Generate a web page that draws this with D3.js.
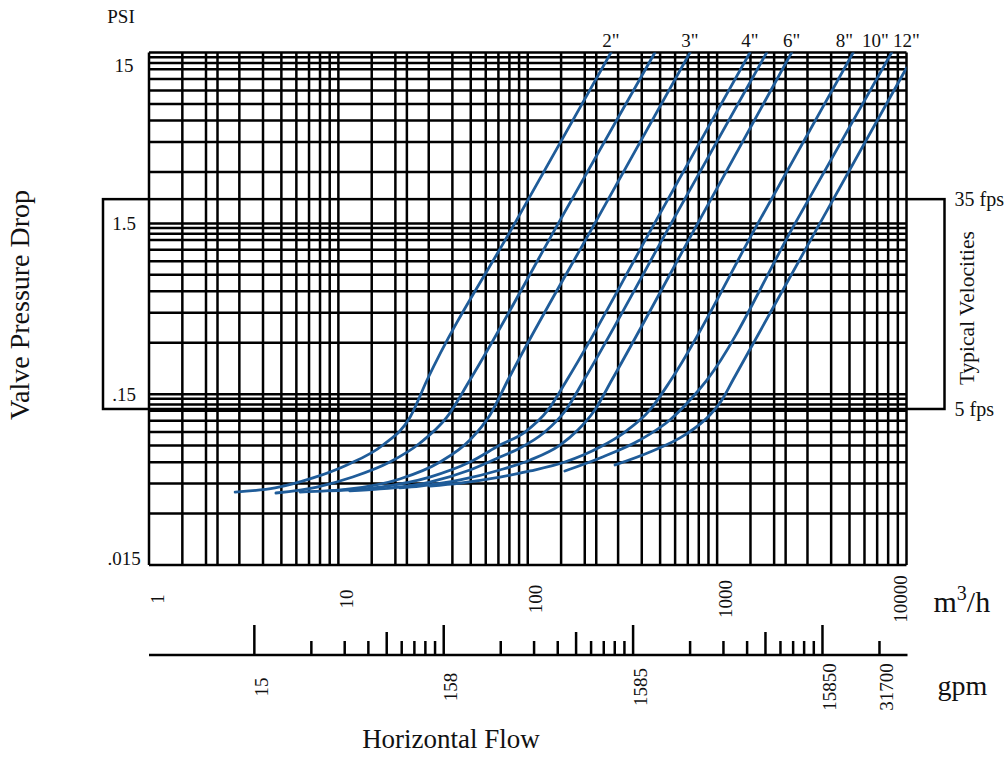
<!DOCTYPE html>
<html>
<head>
<meta charset="utf-8">
<script src="https://cdn.jsdelivr.net/npm/d3@7"></script>
<style>
  body { margin: 0; background: #fff; }
  text { font-family: "Liberation Serif", "Times New Roman", serif; fill: #111; }
</style>
</head>
<body>
<div id="chart"></div>
<script>
// valve sizes, only some are printed at the top
const sizeNames = ['2"', '2.5"', '3"', '4"', '5"', '6"', '8"', '10"', '12"'];
const sizeLabels = ['2"', '', '3"', '4"', '', '6"', '8"', '10"', '12"'];

// flow (m3/h) and pressure drop (psi)
const flow2 = [2.85, 4.63, 7.34, 11.1, 17.2, 23.9, 29.4, 85.4, 275];
const psi2 = [0.0401, 0.0424, 0.0485, 0.0578, 0.0756, 0.110, 0.1816, 1.5, 15];
const flow25 = [4.68, 7.71, 11.9, 18.7, 27.0, 37.4, 49.5, 145, 469];
const psi25 = [0.0396, 0.0429, 0.0491, 0.0601, 0.0777, 0.110, 0.1816, 1.5, 15];
const flow3 = [6.27, 11.5, 21.1, 34.4, 49.5, 63.2, 78.6, 226, 719];
const psi3 = [0.0401, 0.0418, 0.0478, 0.0601, 0.0809, 0.1133, 0.1816, 1.5, 15];
const flow4 = [9.03, 16.6, 30.4, 49.5, 71.3, 96.7, 128, 161, 467, 1490];
const psi4 = [0.0407, 0.0429, 0.0491, 0.0601, 0.0756, 0.0901, 0.1213, 0.1816, 1.5, 15];
const flow5 = [11.5, 16.6, 30.4, 49.5, 71.3, 91.0, 123, 159, 198, 572, 1826];
const psi5 = [0.0407, 0.0418, 0.0459, 0.054, 0.0643, 0.0726, 0.0901, 0.1213, 0.1816, 1.5, 15];
const flow6 = [21.1, 27.0, 43.9, 71.3, 103, 148, 184, 226, 278, 790, 2474];
const psi6 = [0.0424, 0.0435, 0.0472, 0.054, 0.0618, 0.0756, 0.0926, 0.1213, 0.1816, 1.5, 15];
const flow8 = [30.4, 43.9, 71.3, 103, 157, 241, 326, 442, 570, 1642, 5230];
const psi8 = [0.0435, 0.0453, 0.0491, 0.0533, 0.0601, 0.0736, 0.0901, 0.1213, 0.1816, 1.5, 15];
const flow10 = [157, 241, 391, 563, 719, 883, 2581, 8345];
const psi10 = [0.0533, 0.0635, 0.0809, 0.106, 0.1387, 0.1816, 1.5, 15];
const flow12 = [289, 442, 676, 916, 1060, 1212, 3488, 10000];
const psi12 = [0.0578, 0.0688, 0.0866, 0.1133, 0.1387, 0.1816, 1.5, 12.2];

const flows = [flow2, flow25, flow3, flow4, flow5, flow6, flow8, flow10, flow12];
const psis = [psi2, psi25, psi3, psi4, psi5, psi6, psi8, psi10, psi12];

// axes
const psiTicks = [15, 1.5, 0.15, 0.015];
const psiTickText = ["15", "1.5", ".15", ".015"];
const psiDecades = [0.015, 0.15, 1.5];
const psiSteps = [1, 2, 3, 4, 5, 6, 7, 8, 8.7, 9.4];
const flowDecades = [1, 10, 100, 1000];
const flowSteps = [1, 1.5, 2, 2.3, 3, 4, 5, 6, 7, 8, 9];
const m3hTicks = [1, 10, 100, 1000, 10000];

// gpm scale under the chart
const gpmToM3h = 0.22712;
const gpmMajor = [15.85, 158.5, 1585, 15850];
const gpmMid = [79.25, 792.5, 7925];
const gpmMinor = [31.7, 47.55, 63.4, 95.1, 110.95, 126.8, 142.65,
                  317, 475.5, 634, 951, 1109.5, 1268, 1426.5,
                  3170, 4755, 6340, 9510, 11095, 12680, 14265, 31700];
const gpmTickText = ["15", "158", "1585", "15850", "31700"];
const gpmTickVals = [15.85, 158.5, 1585, 15850, 31700];

// typical velocity band (psi)
const bandNames = ["35 fps", "5 fps"];
const bandPsi = [2.08, 0.1229];

const width = 1007, height = 776;
const blue = "#1f5c99";
const lineW = 2.5;

const svg = d3.select("#chart").append("svg")
    .attr("width", width)
    .attr("height", height)
    .style("background", "#fff");

const x = d3.scaleLog().domain([1, 10000]).range([149, 906.5]);
const y = d3.scaleLog().domain([0.015, 15]).range([565, 52.6]);
const pLeft = x.range()[0], pRight = x.range()[1];
const pTop = y.range()[1], pBottom = y.range()[0];

// velocity box
const yb0 = y(bandPsi[0]), yb1 = y(bandPsi[1]);
svg.append("rect")
    .attr("x", pLeft - 46)
    .attr("y", yb0)
    .attr("width", pRight + 38 - (pLeft - 46))
    .attr("height", yb1 - yb0)
    .attr("fill", "none")
    .attr("stroke", "#000")
    .attr("stroke-width", lineW);

bandNames.forEach((t, i) => {
    svg.append("text")
        .attr("x", pRight + 48)
        .attr("y", y(bandPsi[i]))
        .attr("dominant-baseline", "central")
        .attr("font-size", "20px")
        .text(t);
});
svg.append("text")
    .attr("transform", `translate(${pRight + 60},${(yb0 + yb1) / 2 + 4}) rotate(-90)`)
    .attr("text-anchor", "middle")
    .attr("dominant-baseline", "central")
    .attr("font-size", "21.5px")
    .text("Typical Velocities");

// grid
const grid = svg.append("g").attr("stroke", "#000").attr("stroke-width", lineW);
const vLines = [];
flowDecades.forEach(d => flowSteps.forEach(s => vLines.push(d * s)));
vLines.push(10000);
vLines.forEach(v => {
    grid.append("line")
        .attr("x1", x(v)).attr("x2", x(v))
        .attr("y1", pTop).attr("y2", pBottom);
});
const hLines = [];
psiDecades.forEach(d => psiSteps.forEach(s => hLines.push(d * s)));
hLines.push(15);
hLines.forEach(v => {
    grid.append("line")
        .attr("x1", pLeft).attr("x2", pRight)
        .attr("y1", y(v)).attr("y2", y(v));
});

// curves
svg.append("clipPath").attr("id", "plot")
    .append("rect")
    .attr("x", pLeft).attr("y", pTop)
    .attr("width", pRight - pLeft).attr("height", pBottom - pTop);

const line = d3.line()
    .x(d => x(d[0]))
    .y(d => y(d[1]))
    .curve(d3.curveMonotoneX);

flows.forEach((f, i) => {
    const pts = f.map((v, j) => [v, psis[i][j]]);
    svg.append("path")
        .datum(pts)
        .attr("clip-path", "url(#plot)")
        .attr("fill", "none")
        .attr("stroke", blue)
        .attr("stroke-width", 2.8)
        .attr("stroke-linecap", "round")
        .attr("d", line);
});

// size labels at the top end of each curve, pushed apart from the right
const labelPos = [];
sizeLabels.forEach((t, i) => {
    if (!t) return;
    const f = flows[i];
    labelPos.push({ text: t, x: Math.min(x(f[f.length - 1]), pRight) });
});
for (let i = labelPos.length - 2; i >= 0; i--) {
    labelPos[i].x = Math.min(labelPos[i].x, labelPos[i + 1].x - 31);
}
labelPos.forEach(d => {
    svg.append("text")
        .attr("x", d.x)
        .attr("y", pTop - 6)
        .attr("text-anchor", "middle")
        .attr("font-size", "19px")
        .text(d.text);
});

// y tick labels
svg.append("text")
    .attr("x", 121).attr("y", 23)
    .attr("text-anchor", "middle")
    .attr("font-size", "19px")
    .text("PSI");
psiTicks.forEach((v, i) => {
    svg.append("text")
        .attr("x", 124)
        .attr("y", Math.min(Math.max(y(v), pTop + 13), pBottom - 7))
        .attr("text-anchor", "middle")
        .attr("dominant-baseline", "central")
        .attr("font-size", "19px")
        .text(psiTickText[i]);
});

svg.append("text")
    .attr("transform", "translate(19,305) rotate(-90)")
    .attr("text-anchor", "middle")
    .attr("dominant-baseline", "central")
    .attr("font-size", "28px")
    .text("Valve Pressure Drop");

// m3/h tick labels
m3hTicks.forEach(v => {
    const px = Math.min(x(v) + 8, pRight - 6);
    svg.append("text")
        .attr("transform", `translate(${px},599) rotate(-90)`)
        .attr("text-anchor", "middle")
        .attr("dominant-baseline", "central")
        .attr("font-size", "19px")
        .text(d3.format("d")(v));
});
const unitM = svg.append("text")
    .attr("x", pRight + 27).attr("y", 612)
    .attr("font-size", "30px");
unitM.append("tspan").text("m");
unitM.append("tspan").attr("font-size", "20px").attr("dy", -12).text("3");
unitM.append("tspan").attr("dy", 12).text("/h");

// gpm scale
const axisY = 655;
const gx = g => x(g * gpmToM3h);
svg.append("line")
    .attr("x1", pLeft).attr("x2", pRight + 1)
    .attr("y1", axisY).attr("y2", axisY)
    .attr("stroke", "#000").attr("stroke-width", lineW);
const tickSets = [[gpmMajor, 30], [gpmMid, 23], [gpmMinor, 14]];
tickSets.forEach(([vals, len]) => {
    vals.forEach(g => {
        svg.append("line")
            .attr("x1", gx(g)).attr("x2", gx(g))
            .attr("y1", axisY).attr("y2", axisY - len)
            .attr("stroke", "#000").attr("stroke-width", lineW);
    });
});
gpmTickVals.forEach((g, i) => {
    svg.append("text")
        .attr("transform", `translate(${gx(g) + 7},687) rotate(-90)`)
        .attr("text-anchor", "middle")
        .attr("dominant-baseline", "central")
        .attr("font-size", "19px")
        .text(gpmTickText[i]);
});
svg.append("text")
    .attr("x", pRight + 31).attr("y", 695)
    .attr("font-size", "28px")
    .text("gpm");

svg.append("text")
    .attr("x", 451).attr("y", 748)
    .attr("text-anchor", "middle")
    .attr("font-size", "27px")
    .text("Horizontal Flow");
</script>
</body>
</html>
